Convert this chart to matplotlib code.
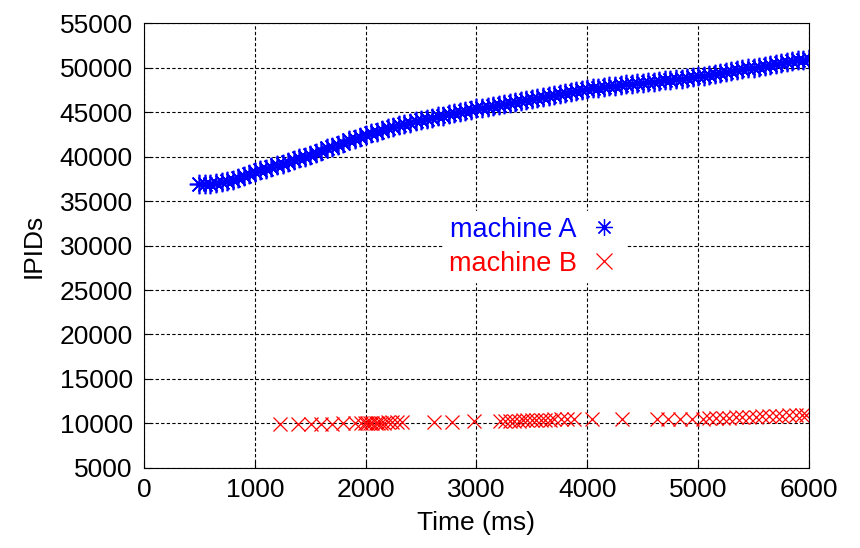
import matplotlib
matplotlib.use("Agg")
import matplotlib.pyplot as plt

plt.rcParams['font.family'] = ['Liberation Sans', 'DejaVu Sans']

# machine A: IPID samples (every 50 ms)
time_a = list(range(500, 6001, 50))
ipid_a = [36900, 36950, 36950, 37000, 37100, 37250, 37400, 37600, 37800, 38050,
          38300, 38450, 38650, 38850, 39000, 39200, 39400, 39600, 39800, 40000,
          40200, 40400, 40650, 40900, 41100, 41300, 41550, 41800, 42000, 42200,
          42400, 42600, 42800, 43000, 43200, 43350, 43500, 43650, 43800, 43950,
          44100, 44250, 44350, 44500, 44600, 44750, 44850, 45000, 45100, 45250,
          45400, 45500, 45600, 45700, 45800, 45950, 46050, 46150, 46250, 46400,
          46500, 46600, 46700, 46800, 46900, 47000, 47150, 47250, 47350, 47450,
          47600, 47650, 47750, 47800, 47900, 47950, 48050, 48100, 48150, 48250,
          48300, 48350, 48400, 48450, 48550, 48600, 48700, 48750, 48850, 48900,
          49000, 49100, 49200, 49300, 49400, 49500, 49600, 49700, 49800, 49900,
          50000, 50100, 50200, 50300, 50400, 50500, 50600, 50700, 50800, 50900,
          51000]

# machine B: sparse samples
time_b = [1230, 1390, 1510, 1600, 1700, 1800, 1900, 1960, 1990, 2010, 2040, 2060,
          2090, 2110, 2140, 2170, 2200, 2240, 2280, 2330, 2620, 2780, 2980,
          3210, 3260, 3300, 3340, 3380, 3420, 3460, 3500, 3540, 3580, 3620, 3660,
          3700, 3760, 3820, 3880, 4040, 4310, 4630, 4730, 4840, 4940,
          5040, 5100, 5160, 5220, 5280, 5340, 5400, 5460, 5520, 5580, 5640,
          5700, 5760, 5820, 5880, 5940, 5970]
ipid_b = [9900, 9900, 9950, 9950, 9950, 10000, 10000, 10050, 10050, 10050, 10050, 10100,
          10100, 10100, 10100, 10100, 10150, 10150, 10150, 10150, 10200, 10200, 10250,
          10250, 10300, 10300, 10300, 10300, 10350, 10350, 10350, 10400, 10400, 10400, 10400,
          10450, 10450, 10450, 10500, 10450, 10500, 10450, 10450, 10500, 10500,
          10550, 10600, 10600, 10650, 10650, 10700, 10700, 10750, 10750, 10800, 10800,
          10850, 10850, 10900, 10900, 10950, 10950]

fig = plt.figure(figsize=(8.6, 5.48), dpi=100)
ax = fig.add_axes([0.1674, 0.146, 0.7733, 0.812])

ax.plot(time_a, ipid_a, linestyle='none', marker=(8, 2, 0), markersize=14,
        markeredgewidth=1.2, color='#0000ff', label='machine A')
ax.plot(time_b, ipid_b, linestyle='none', marker='x', markersize=10,
        markeredgewidth=0.9, color='#ff0000', label='machine B')

ax.set_xlim(0, 6000)
ax.set_ylim(5000, 55000)
ax.set_xticks(range(0, 6001, 1000))
ax.set_yticks(range(5000, 55001, 5000))
ax.grid(True, color='black', linestyle=(0, (3, 2)), linewidth=0.8)
ax.tick_params(direction='in', labelsize=19, length=5)
ax.tick_params(axis='x', pad=7)
ax.tick_params(axis='y', pad=8)
ax.set_xlabel('Time (ms)', fontsize=19, labelpad=7)
ax.set_ylabel('IPIDs', fontsize=19, labelpad=10)

leg = ax.legend(loc='center', bbox_to_anchor=(0.587, 0.497), frameon=True,
                markerfirst=False, fontsize=19.5, handletextpad=0.4,
                handlelength=1.2, labelspacing=0.3, borderpad=0.2)
leg.get_frame().set_edgecolor('white')
leg.get_frame().set_facecolor('white')
leg.get_frame().set_alpha(1)
for txt, c in zip(leg.get_texts(), ['#0000ff', '#ff0000']):
    txt.set_color(c)
for h in leg.legend_handles:
    h.set_markersize(12)
    h.set_markeredgewidth(0.9)

fig.savefig('out.png', dpi=100)
